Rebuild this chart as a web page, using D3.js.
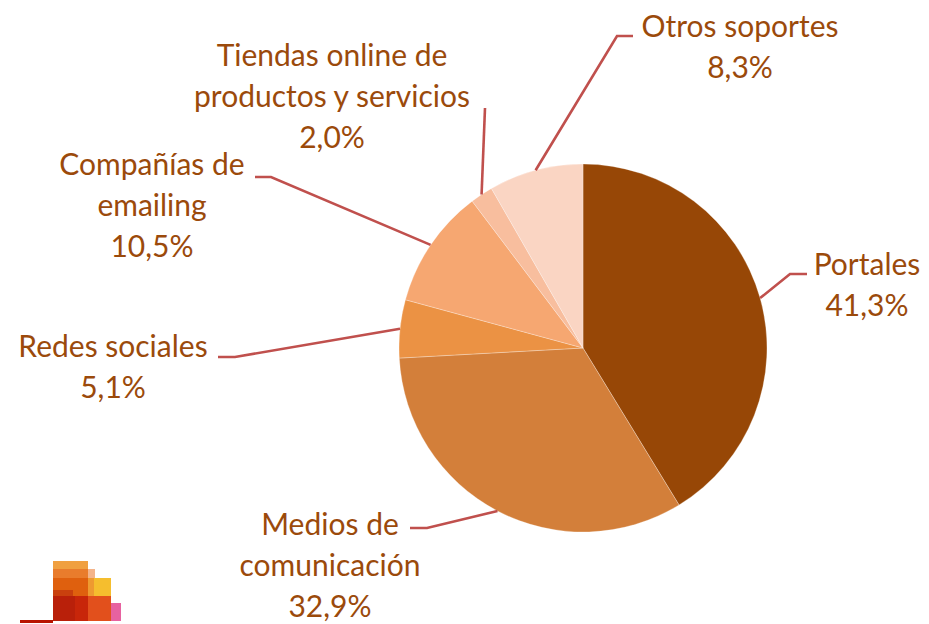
<!DOCTYPE html>
<html><head><meta charset="utf-8">
<script src="https://cdn.jsdelivr.net/npm/d3@7"></script>
<style>html,body{margin:0;padding:0;background:#fff;}svg{display:block;}</style>
</head><body>
<svg id="chart" width="929" height="624"></svg>
<script>
const categories = ["Portales", "Medios de comunicación", "Redes sociales", "Compañías de emailing", "Tiendas online de productos y servicios", "Otros soportes"];
const values = [41.3, 32.9, 5.1, 10.5, 2.0, 8.3];
const valueLabels = ["41,3%", "32,9%", "5,1%", "10,5%", "2,0%", "8,3%"];
const labelLines = [["Portales"], ["Medios de", "comunicación"], ["Redes sociales"], ["Compañías de", "emailing"], ["Tiendas online de", "productos y servicios"], ["Otros soportes"]];
const colors = ["#974706", "#D37F3A", "#EB9244", "#F6A771", "#F8BE9E", "#FAD5C3"];

// layout (positions of labels, not data)
const layout = [
  {elbow:[790,274], end:[807,274], tx:867, ty:275},
  {elbow:[427,528], end:[410,528], tx:330, ty:535},
  {elbow:[235,357], end:[218,357], tx:113, ty:357},
  {elbow:[271,177], end:[255,177], tx:152, ty:175},
  {elbow:[485,108], end:[485,108], tx:332, ty:66},
  {elbow:[617,36], end:[633,36], tx:740, ty:37}
];

const svg = d3.select("#chart");
const cx = 583, cy = 348, r = 184;
const textColor = "#9B4A0B";
const lineColor = "#C0504D";
const fontSize = 30, lineH = 41;

const pie = d3.pie().sort(null).value(d => d)(values);
const arc = d3.arc().innerRadius(0).outerRadius(r);
const g = svg.append("g").attr("transform", `translate(${cx},${cy})`);
g.selectAll("path").data(pie).join("path")
  .attr("d", arc)
  .attr("fill", (d,i) => colors[i])
  .attr("stroke", "#ffffff").attr("stroke-opacity", 0.35).attr("stroke-width", 0.8);

// leader lines
pie.forEach((d,i) => {
  const a = (d.startAngle + d.endAngle)/2;
  const p0 = [cx + r*Math.sin(a), cy - r*Math.cos(a)];
  const L = layout[i];
  svg.append("path")
    .attr("d", d3.line()([p0, L.elbow, L.end]))
    .attr("fill","none").attr("stroke", lineColor).attr("stroke-width", 2.6);
});

// labels
categories.forEach((c,i) => {
  const L = layout[i];
  const lines = labelLines[i].concat([valueLabels[i]]);
  const t = svg.append("text")
    .attr("text-anchor","middle")
    .attr("font-family","Lato, 'Open Sans', sans-serif")
    .attr("font-size", fontSize)
    .attr("fill", textColor);
  lines.forEach((ln,k) => {
    t.append("tspan").attr("x", L.tx).attr("y", L.ty + k*lineH).text(ln);
  });
});

// logo blocks
const logo = svg.append("g");
const blocks = [
  [20,620,33,3,"#B81400"],
  [53,561,35,8,"#F0A040"],
  [53,569,35,9,"#E97C2C"],
  [88,569,7,9,"#F4B48A"],
  [53,578,35,18,"#DF600E"],
  [88,578,23,18,"#F5BE2E"],
  [88,578,6,18,"#EE9A30"],
  [53,596,35,25,"#B9200A"],
  [53,590,20,6,"#C9400E"],
  [75,596,13,25,"#C8260A"],
  [88,596,23,25,"#E2501C"],
  [111,603,10,18,"#E762A0"]
];
logo.selectAll("rect").data(blocks).join("rect")
  .attr("x", d=>d[0]).attr("y", d=>d[1]).attr("width", d=>d[2]).attr("height", d=>d[3]).attr("fill", d=>d[4]);
</script>
</body></html>
